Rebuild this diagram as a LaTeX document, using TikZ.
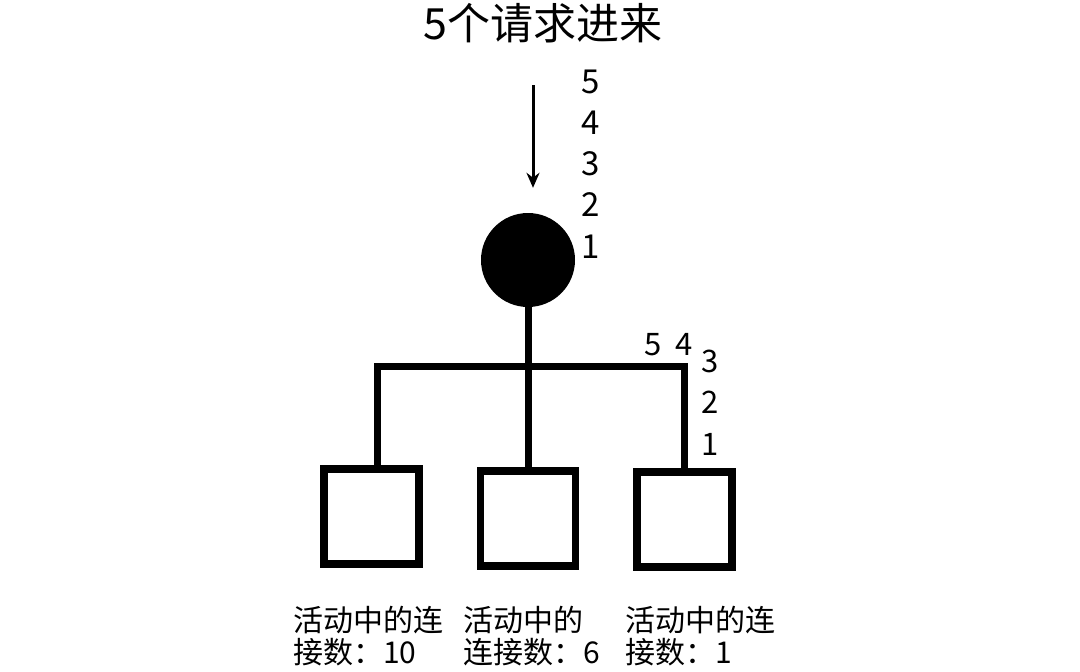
\documentclass[tikz,border=0pt]{standalone}
\usepackage{fontspec}
\setmainfont{Noto Sans CJK SC}
\usetikzlibrary{arrows.meta}
\begin{document}
\begin{tikzpicture}[
      x=1pt,y=-1pt,
      wire/.style={line width=7pt},
      feed/.style={line width=3pt,-{Stealth[length=15pt,width=13pt]}},
      hub/.style={circle,fill=black,minimum size=94pt,inner sep=0pt},
      server/.style={draw,line width=7.5pt,minimum size=95pt,inner sep=0pt},
      num/.style={anchor=base,inner sep=0pt,font=\fontsize{33}{36}\selectfont},
      caption/.style={anchor=base west,align=left,inner sep=0pt,font=\fontsize{30}{32}\selectfont}
    ]
    \useasboundingbox (0,0) rectangle (1080,672);
    % Draw the title and the incoming requests.
    \node[anchor=base,inner sep=0pt,font=\fontsize{43}{46}\selectfont] (title) at (543,39) {5个请求进来};
    \node[hub] (hub) at (528,260) {};
    \coordinate (in) at (533,85);
    \draw[feed] (in) -- (in |- hub.north) [shorten >=25pt];
    \foreach \n [count=\i] in {5,4,3,2,1}
      \node[num] (q\n) at (591,93+41.3*\i-41.3) {\n};
    % Draw the servers.
    \node[server] (s1) at (371.5,516.5) {};
    \node[server] (s2) at (528,518.5) {};
    \node[server] (s3) at (684.5,519.5) {};
    \coordinate (bar) at (528,366);
    \draw[wire] ([xshift=5.5pt]s1.north) -- ([xshift=5.5pt]s1.north |- bar) -- (s3.north |- bar) -- (s3.north);
    \draw[wire] (hub) -- (s2.north);
    % Draw the requests on the last branch.
    \node[num,font=\fontsize{31}{34}\selectfont] (p5) at (653,355) {5};
    \node[num,font=\fontsize{31}{34}\selectfont] (p4) at (684,355) {4};
    \foreach \n [count=\i] in {3,2,1}
      \node[num,font=\fontsize{31}{34}\selectfont] (p\n) at (710,372+41.5*\i-41.5) {\n};
    % Draw the connection counts.
    \node[caption] (c1) at (293,663) {活动中的连\\接数：10};
    \node[caption] (c2) at (463,663) {活动中的\\连接数：6};
    \node[caption] (c3) at (625,663) {活动中的连\\接数：1};
\end{tikzpicture}
\end{document}
